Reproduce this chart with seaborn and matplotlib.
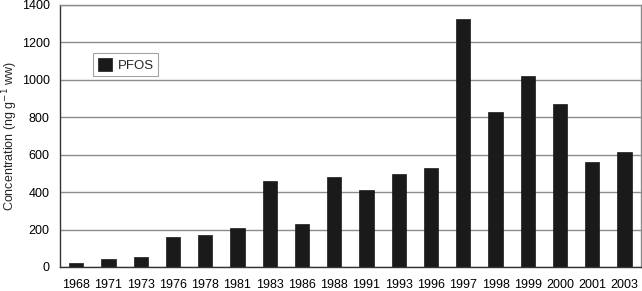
import matplotlib
matplotlib.use("Agg")
import matplotlib.pyplot as plt
import seaborn as sns
import pandas as pd
import numpy as np

years = ["1968", "1971", "1973", "1976", "1978", "1981", "1983", "1986", "1988",
         "1991", "1993", "1996", "1997", "1998", "1999", "2000", "2001", "2003"]
pfos = [23, 41, 55, 162, 169, 210, 460, 230, 480,
        410, 496, 528, 1325, 830, 1021, 870, 560, 613]
yticks = [0, 200, 400, 600, 800, 1000, 1200, 1400]

sns.set_style("white")
plt.rcParams['font.family'] = ['Liberation Sans', 'DejaVu Sans']

df = pd.DataFrame({"Year": years, "PFOS": pfos})

fig = plt.figure(figsize=(6.42, 2.91), dpi=100)
ax = fig.add_axes([0.0935, 0.0825, 0.9045, 0.9005])

sns.barplot(data=df, x="Year", y="PFOS", color="#1a1a1a", width=0.44,
            edgecolor="#1a1a1a", linewidth=0.5, label="PFOS", ax=ax, saturation=1)

ax.set_ylim(0, 1400)
ax.set_yticks(yticks)
ax.set_xlim(-0.5, len(years) - 0.5)
ax.yaxis.grid(True, color="#8c8c8c", linewidth=1.0)
ax.set_axisbelow(True)
ax.set_xlabel("")
ax.set_ylabel("Concentration (ng g$^{-1}$ ww)", fontsize=9, labelpad=1)
ax.tick_params(axis="both", labelsize=9, colors="black")
ax.tick_params(axis="x", length=0, pad=9)
ax.tick_params(axis="y", length=0, pad=7.5)
# boundary tick marks
ax.set_xticks(np.arange(-0.5, len(years), 1.0), minor=True)
ax.tick_params(axis="x", which="minor", length=4, width=0.8, color="#555555")

for s in ["top", "right"]:
    ax.spines[s].set_color("#8c8c8c")
    ax.spines[s].set_linewidth(1.0)
for s in ["left", "bottom"]:
    ax.spines[s].set_color("#333333")
    ax.spines[s].set_linewidth(1.0)

leg = ax.legend(loc="upper left", bbox_to_anchor=(0.057, 0.815), frameon=True,
                fancybox=False, fontsize=9.5, handlelength=1.1, handleheight=1.1,
                handletextpad=0.4, borderpad=0.35, borderaxespad=0)
leg.get_frame().set_edgecolor("#8c8c8c")
leg.get_frame().set_linewidth(0.8)

fig.savefig("out.png", dpi=100)
